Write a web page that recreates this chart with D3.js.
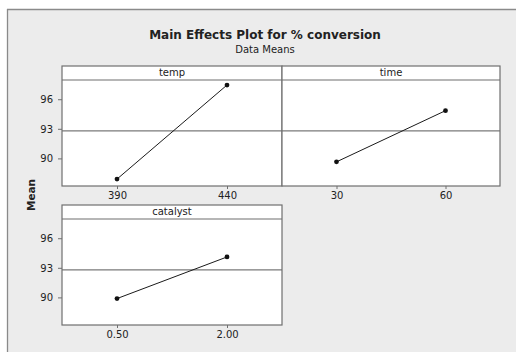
<!DOCTYPE html>
<html><head><meta charset="utf-8">
<script src="https://cdn.jsdelivr.net/npm/d3@7"></script>
<style>
html,body{margin:0;padding:0;background:#fff;}
svg{display:block;}
text{font-family:"DejaVu Sans",Verdana,sans-serif;fill:#222;}
</style></head>
<body>
<script>
// ---- data ----
const factors = ["temp", "time", "catalyst"];
const tempLevels = ["390", "440"];
const tempMeans = [87.90, 97.44];
const timeLevels = ["30", "60"];
const timeMeans = [89.65, 94.84];
const catalystLevels = ["0.50", "2.00"];
const catalystMeans = [89.88, 94.10];
const grandMean = 92.8;
const yTicks = [90, 93, 96];
const yDomain = [87.2, 97.95];
const title = "Main Effects Plot for % conversion";
const subtitle = "Data Means";
const yLabel = "Mean";

const W = 516, H = 352;
const FONT = "DejaVu Sans, Verdana, sans-serif";
const svg = d3.select("body").append("svg").attr("width", W).attr("height", H);

// frame
svg.append("rect").attr("x", 7).attr("y", 9).attr("width", W).attr("height", H).attr("fill", "#ececec");
svg.append("line").attr("x1", 7).attr("x2", W).attr("y1", 9.5).attr("y2", 9.5).attr("stroke", "#8a8a8a").attr("stroke-width", 1.3);
svg.append("line").attr("x1", 7.5).attr("x2", 7.5).attr("y1", 9).attr("y2", H).attr("stroke", "#8a8a8a").attr("stroke-width", 1.3);

svg.append("text").attr("x", 265).attr("y", 38.5).attr("text-anchor", "middle")
  .style("font-size", "12px").style("font-weight", "bold").text(title);
svg.append("text").attr("x", 265).attr("y", 53).attr("text-anchor", "middle")
  .style("font-size", "10px").text(subtitle);
svg.append("text").attr("transform", "translate(35,195) rotate(-90)").attr("text-anchor", "middle")
  .style("font-size", "10.5px").style("font-weight", "bold").text(yLabel);

const panels = [
  {name: factors[0], levels: tempLevels, means: tempMeans, x0: 62, x1: 282, top: 66, yAxis: true},
  {name: factors[1], levels: timeLevels, means: timeMeans, x0: 282, x1: 500, top: 66, yAxis: false},
  {name: factors[2], levels: catalystLevels, means: catalystMeans, x0: 62, x1: 282, top: 205, yAxis: true}
];
const headerH = 14, plotH = 106;
const borderCol = "#6f6f6f";

panels.forEach(p => {
  const g = svg.append("g");
  const hTop = p.top, pTop = p.top + headerH, pBot = pTop + plotH;
  const x = d3.scalePoint().domain(p.levels).range([p.x0, p.x1]).padding(0.5);
  const y = d3.scaleLinear().domain(yDomain).range([pBot, pTop]);

  g.append("rect").attr("x", p.x0).attr("y", hTop).attr("width", p.x1 - p.x0).attr("height", pBot - hTop)
    .attr("fill", "#fff");
  // mean line
  g.append("line").attr("x1", p.x0).attr("x2", p.x1).attr("y1", y(grandMean)).attr("y2", y(grandMean))
    .attr("stroke", "#7a7a7a").attr("stroke-width", 1.2);
  // data
  const data = p.levels.map((l, i) => ({l, v: p.means[i]}));
  g.append("path").datum(data).attr("fill", "none").attr("stroke", "#1a1a1a").attr("stroke-width", 1)
    .attr("d", d3.line().x(d => x(d.l)).y(d => y(d.v)));
  g.selectAll("circle").data(data).join("circle").attr("cx", d => x(d.l)).attr("cy", d => y(d.v))
    .attr("r", 2.4).attr("fill", "#111");
  // header
  g.append("text").attr("x", (p.x0 + p.x1) / 2).attr("y", hTop + 9.8).attr("text-anchor", "middle")
    .style("font-size", "10px").text(p.name);
  // borders
  g.append("rect").attr("x", p.x0).attr("y", hTop).attr("width", p.x1 - p.x0).attr("height", pBot - hTop)
    .attr("fill", "none").attr("stroke", borderCol).attr("stroke-width", 1.2);
  g.append("line").attr("x1", p.x0).attr("x2", p.x1).attr("y1", pTop).attr("y2", pTop)
    .attr("stroke", borderCol).attr("stroke-width", 1.2);
  // x axis
  const xa = g.append("g").attr("transform", `translate(0,${pBot})`)
    .call(d3.axisBottom(x).tickSize(3).tickPadding(3));
  xa.select(".domain").remove();
  xa.selectAll("line").attr("stroke", borderCol);
  xa.selectAll("text").style("font-size", "10px").style("font-family", FONT).attr("fill", "#222");
  if (p.yAxis) {
    const ya = g.append("g").attr("transform", `translate(${p.x0},0)`)
      .call(d3.axisLeft(y).tickValues(yTicks).tickSize(4).tickPadding(5));
    ya.select(".domain").remove();
    ya.selectAll("line").attr("stroke", borderCol);
    ya.selectAll("text").style("font-size", "10px").style("font-family", FONT).attr("fill", "#222");
  }
});
</script>
</body></html>
